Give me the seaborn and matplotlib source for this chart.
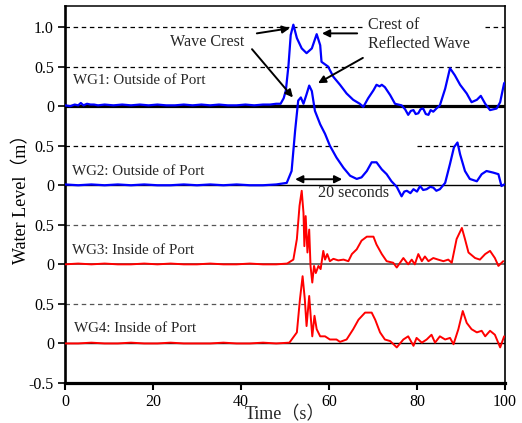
import matplotlib
matplotlib.use("Agg")
import matplotlib.pyplot as plt
import pandas as pd
import seaborn as sns

# ---------------- data (water level in m, time in s) ----------------
t_wg1 = [0, 1.2, 2.2, 3.0, 3.6, 4.2, 5.0, 5.8, 6.6, 7.5, 9, 11, 13, 15, 17, 19, 21, 23, 25, 27,
         29, 31, 33, 35, 37, 39, 41, 43, 45, 46.6, 48, 49.0, 49.7, 50.2, 50.8, 51.3, 51.9, 52.7, 53.8, 54.9,
         56.1, 57.2, 58.0, 58.3, 59.8, 61.0, 62.5, 64.0, 65.5, 67.0, 67.8, 68.9, 70.1, 70.8, 71.5, 72.0, 72.7, 73.9, 75.0, 76.5,
         77.3, 78.0, 78.6, 79.2, 79.7, 80.3, 80.8, 81.4, 82.0, 82.6, 83.1, 83.7, 84.4, 85.2, 86.4, 87.5, 88.6, 89.8, 91.3, 92.4,
         93.6, 94.5, 95.5, 96.6, 98.1, 98.9, 99.8, 100]
v_wg1 = [0.01, 0.00, 0.02, 0.01, 0.04, 0.01, 0.03, 0.02, 0.02, 0.01, 0.02, 0.01, 0.02, 0.01, 0.02, 0.01, 0.02, 0.01, 0.01, 0.02,
         0.01, 0.02, 0.01, 0.02, 0.01, 0.01, 0.02, 0.01, 0.02, 0.02, 0.03, 0.03, 0.10, 0.20, 0.52, 0.90, 1.03, 0.86, 0.73, 0.67,
         0.73, 0.91, 0.77, 0.56, 0.50, 0.37, 0.27, 0.16, 0.08, 0.03, -0.01, 0.10, 0.20, 0.27, 0.25, 0.27, 0.24, 0.14, 0.03, 0.01,
         -0.04, -0.11, -0.06, -0.05, -0.10, -0.09, -0.04, -0.03, -0.10, -0.11, -0.05, -0.07, -0.03, 0.01, 0.22, 0.48, 0.39, 0.27, 0.16, 0.05,
         0.08, 0.13, 0.03, -0.05, -0.03, 0.05, 0.29, 0.30]

t_wg2 = [0, 3, 6, 9, 12, 15, 18, 21, 24, 27, 30, 33, 36, 39, 42, 45, 48,
         50.4, 51.5, 52.3, 53.0, 53.6, 54.2, 54.9, 55.5, 56.1, 56.8,
         58.0, 59.1, 60.2, 61.7, 63.3, 64.8, 66.3, 67.4, 68.6, 69.7,
         70.8, 72.0, 73.1, 74.2, 75.4, 76.5, 77.1, 77.7, 78.5, 79.2,
         80.0, 80.7, 81.4, 82.2, 83.0, 83.7, 84.4, 85.2, 86.4, 87.5,
         88.4, 89.2, 89.8, 90.9, 92.0, 93.6, 94.7, 95.8, 97.3, 98.5, 99.2, 99.8]
v_wg2 = [0.01, 0.0, 0.01, 0.0, 0.01, 0.0, 0.01, 0.0, 0.0, 0.01, 0.0, 0.01, 0.0, 0.01, 0.0, 0.0, 0.01,
         0.03, 0.18, 0.69, 1.07, 1.11, 1.03, 1.15, 1.26, 1.19, 0.94,
         0.77, 0.65, 0.50, 0.35, 0.22, 0.12, 0.08, 0.10, 0.18, 0.29,
         0.29, 0.20, 0.14, 0.05, -0.02, -0.14, -0.08, -0.07, -0.10, -0.05,
         -0.08, -0.01, -0.06, -0.05, -0.02, -0.03, -0.07, -0.05, 0.03, 0.27,
         0.48, 0.54, 0.39, 0.18, 0.08, 0.05, 0.14, 0.18, 0.16, 0.14, -0.01, 0.01]

t_wg3 = [0, 3, 6, 9, 12, 15, 18, 21, 24, 27, 30, 33, 36, 39, 42, 45, 48, 50.5,
         51.9, 52.7, 53.3, 53.8, 54.2, 54.4, 54.7, 55.1, 55.5, 55.8,
         56.2, 56.6, 57.0, 57.6, 58.1, 58.7, 59.1, 59.6, 60.2, 61.0,
         62.1, 63.3, 64.4, 65.2, 66.3, 67.4, 68.6, 70.1, 70.8, 72.0,
         73.1, 74.6, 75.4, 76.9, 78.0, 78.8, 79.5, 80.3, 81.1, 81.8,
         82.6, 83.7, 84.8, 86.0, 87.1, 87.9, 89.0, 90.2, 90.9, 91.7,
         93.2, 94.3, 95.5, 96.6, 97.7, 98.5, 99.6]
v_wg3 = [0.0, 0.01, 0.0, 0.01, 0.0, 0.0, 0.01, 0.0, 0.01, 0.0, 0.0, 0.01, 0.0, 0.0, 0.01, 0.0, 0.0, 0.01,
         0.06, 0.32, 0.74, 0.93, 0.65, 0.23, 0.61, 0.15, 0.44, -0.02,
         -0.23, -0.02, -0.11, -0.02, -0.06, 0.17, 0.06, 0.13, 0.04, 0.07,
         0.05, 0.06, 0.04, 0.13, 0.19, 0.30, 0.35, 0.35, 0.25, 0.13,
         0.04, 0.02, -0.04, 0.08, 0.00, 0.06, 0.00, 0.13, 0.04, 0.10,
         0.04, 0.08, 0.06, 0.04, 0.06, 0.02, 0.32, 0.46, 0.32, 0.15,
         0.08, 0.06, 0.13, 0.17, 0.08, -0.02, 0.04]

t_wg4 = [0, 3, 6, 9, 12, 15, 18, 21, 24, 27, 30, 33, 36, 39, 42, 45, 48, 51.0,
         52.7, 53.4, 54.0, 54.5, 54.9, 55.5, 55.9, 56.2, 56.7, 57.2,
         58.0, 59.1, 60.2, 61.7, 62.5, 64.0, 65.5, 66.7, 68.2, 69.7,
         70.5, 71.6, 72.7, 73.9, 75.4, 76.9, 78.0, 79.2, 79.9, 81.1,
         82.2, 83.3, 84.1, 85.2, 86.4, 87.5, 88.3, 89.4, 90.4, 91.3,
         92.4, 93.6, 94.7, 95.5, 96.6, 97.7, 98.9, 99.8]
v_wg4 = [0.0, 0.0, 0.01, 0.0, 0.0, 0.01, 0.0, 0.0, 0.01, 0.0, 0.0, 0.0, 0.01, 0.0, 0.0, 0.01, 0.0, 0.01,
         0.14, 0.56, 0.85, 0.56, 0.22, 0.60, 0.30, 0.09, 0.35, 0.18,
         0.09, 0.09, 0.05, 0.05, 0.02, 0.05, 0.18, 0.30, 0.39, 0.39,
         0.30, 0.14, 0.05, 0.03, -0.05, 0.05, 0.09, -0.03, 0.07, 0.01,
         0.05, 0.11, 0.01, 0.09, 0.05, 0.07, -0.01, 0.18, 0.41, 0.26,
         0.18, 0.14, 0.16, 0.09, 0.16, 0.11, -0.05, 0.09]

gauge_names = ["WG1: Outside of Port", "WG2: Outside of Port",
               "WG3: Inside of Port", "WG4: Inside of Port"]
ytick_labels = ["-0.5", "0", "0.5", "0", "0.5", "0", "0.5", "0", "0.5", "1.0"]
xtick_values = [0, 20, 40, 60, 80, 100]

# ---------------- style ----------------
sns.set_theme(style="ticks")
plt.rcParams["font.family"] = ["Liberation Serif", "Noto Sans CJK JP", "DejaVu Sans"]
plt.rcParams["axes.facecolor"] = "white"

fig = plt.figure(figsize=(5.22, 4.23), dpi=100)
ax = fig.add_axes([65 / 522, 40 / 423, 440 / 522, 377 / 423])

offsets = [3.0, 2.0, 1.0, 0.0]
series = [(t_wg1, v_wg1), (t_wg2, v_wg2), (t_wg3, v_wg3), (t_wg4, v_wg4)]
colors = ["#0000ff", "#0000ff", "#ff0000", "#ff0000"]
widths = [1.6, 1.6, 1.4, 1.4]

dash = (0, (3.6, 2.9))
# reference lines
ax.hlines(3.0, 0, 100, color="black", lw=2.3, zorder=2)
ax.hlines(2.0, 0, 100, color="black", lw=1.0, zorder=2)
ax.hlines(1.0, 0, 100, color="#555555", lw=1.2, zorder=2)
ax.hlines(0.0, 0, 100, color="black", lw=1.0, zorder=2)
ax.hlines(4.0, 0, 67.5, color="black", lw=0.9, linestyle=dash, zorder=1)
ax.hlines(4.0, 95.5, 100, color="black", lw=0.9, linestyle=dash, zorder=1)
ax.hlines(3.5, 0, 100, color="black", lw=0.9, linestyle=dash, zorder=1)
ax.hlines(2.5, 0, 62.0, color="black", lw=0.9, linestyle=dash, zorder=1)
ax.hlines(2.5, 80.0, 100, color="black", lw=0.9, linestyle=dash, zorder=1)
ax.hlines(1.5, 0, 100, color="#555555", lw=0.9, linestyle=dash, zorder=1)
ax.hlines(0.5, 0, 100, color="#555555", lw=0.9, linestyle=dash, zorder=1)

for (t, v), off, c, w in zip(series, offsets, colors, widths):
    df = pd.DataFrame({"time": t, "level": [x + off for x in v]})
    sns.lineplot(data=df, x="time", y="level", color=c, lw=w, ax=ax,
                 estimator=None, sort=False, zorder=3)

# gauge labels
label_pos = [(1.8, 3.32), (1.6, 2.18), (1.6, 1.17), (2.0, 0.19)]
for name, (x, y) in zip(gauge_names, label_pos):
    ax.text(x, y, name, fontsize=10.8, ha="left", va="center", zorder=4)

# annotations
fs_ann = 11.6
ax.text(23.9, 3.81, "Wave Crest", fontsize=fs_ann, ha="left", va="center", zorder=4)
ax.text(68.8, 4.03, "Crest of", fontsize=fs_ann, ha="left", va="center", zorder=4)
ax.text(68.8, 3.78, "Reflected Wave", fontsize=fs_ann, ha="left", va="center", zorder=4)
ax.text(57.4, 1.9, "20 seconds", fontsize=fs_ann, ha="left", va="center", zorder=4)

akw = dict(arrowstyle="-|>", color="black", lw=1.4, mutation_scale=11, shrinkA=0, shrinkB=0)
ax.annotate("", xy=(51.1, 3.985), xytext=(43.6, 3.92), arrowprops=akw, zorder=5)
ax.annotate("", xy=(58.4, 3.92), xytext=(66.4, 3.92), arrowprops=akw, zorder=5)
ax.annotate("", xy=(51.8, 3.11), xytext=(42.5, 3.72), arrowprops=akw, zorder=5)
ax.annotate("", xy=(57.5, 3.29), xytext=(67.7, 3.61), arrowprops=akw, zorder=5)
ax.annotate("", xy=(52.3, 2.076), xytext=(63.0, 2.076),
            arrowprops=dict(arrowstyle="<|-|>", color="black", lw=1.4,
                            mutation_scale=11, shrinkA=0, shrinkB=0), zorder=5)

# axes
ax.set_xlim(0, 100)
ax.set_ylim(-0.5, 4.266)
ax.set_xticks(xtick_values)
ax.set_xticklabels([str(v) for v in xtick_values])
ax.set_yticks([-0.5, 0, 0.5, 1.0, 1.5, 2.0, 2.5, 3.0, 3.5, 4.0])
ax.set_yticklabels(ytick_labels)
ax.tick_params(axis="both", labelsize=11.5, direction="out", color="black",
               labelcolor="black")
ax.tick_params(axis="x", length=5, width=1.5, pad=3)
ax.tick_params(axis="y", length=5, width=1.2, pad=3)
ax.spines["left"].set_linewidth(1.9)
ax.spines["bottom"].set_linewidth(2.3)
ax.spines["top"].set_linewidth(1.1)
ax.spines["right"].set_linewidth(1.2)
for s in ax.spines.values():
    s.set_color("black")
ax.grid(False)

ax.set_xlabel("")
ax.set_ylabel("Water Level（m）", fontsize=13, color="black")
ax.yaxis.set_label_coords(-0.078, 0.5)
ax.text(0.5, -0.096, "Time（s）", transform=ax.transAxes, fontsize=13,
        ha="center", va="baseline")

fig.savefig("out.png", dpi=100)
